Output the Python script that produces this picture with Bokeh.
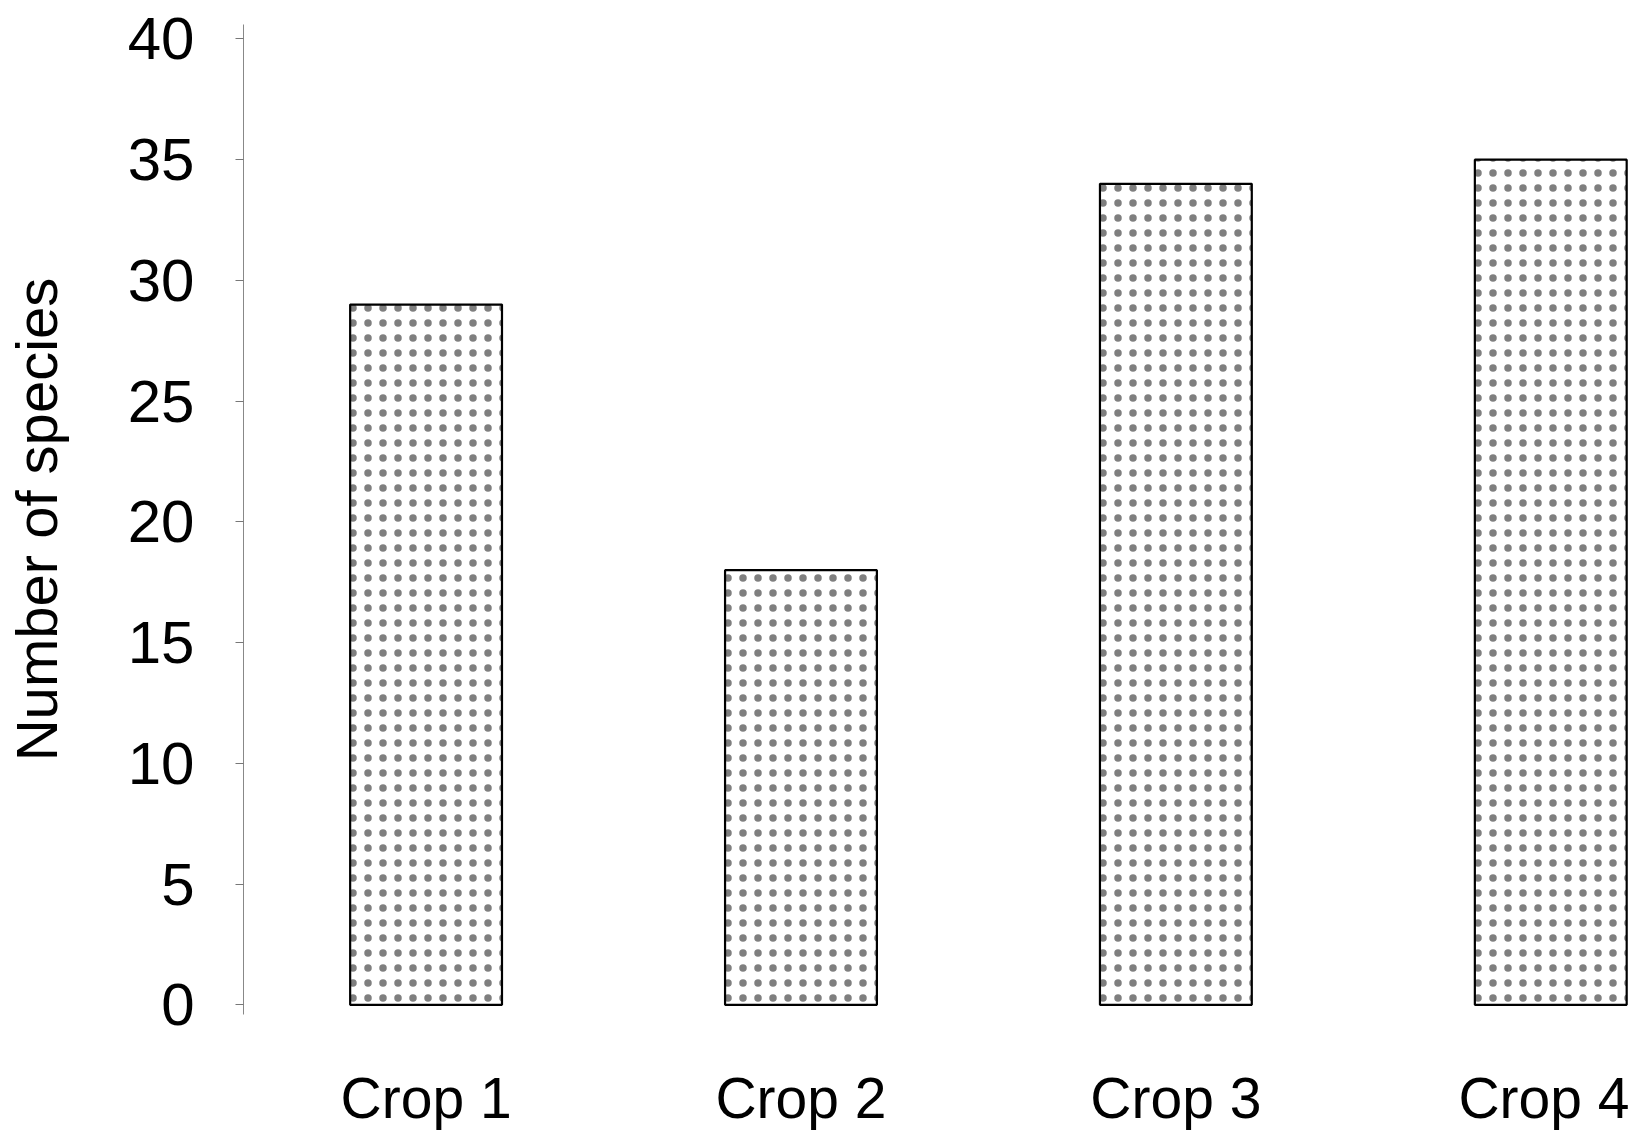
from bokeh.plotting import figure
from bokeh.models import ColumnDataSource, Range1d, FixedTicker
from bokeh.embed import file_html
from bokeh.resources import INLINE

categories = ["Crop 1", "Crop 2", "Crop 3", "Crop 4"]
species = [29, 18, 34, 35]
y_ticks = [0, 5, 10, 15, 20, 25, 30, 35, 40]

positions = list(range(1, len(categories) + 1))
source = ColumnDataSource(data=dict(x=positions, top=species, name=categories))

p = figure(
    width=1629, height=1132,
    output_backend="svg", toolbar_location=None,
    x_range=Range1d(0.513, 4.21), y_range=Range1d(-0.4, 40.6),
    min_border_left=239, min_border_right=0,
    min_border_top=24, min_border_bottom=112,
    background_fill_color="white", border_fill_color="white",
)
p.outline_line_color = None
p.xgrid.grid_line_color = None
p.ygrid.grid_line_color = None

p.vbar(
    x="x", top="top", bottom=0, width=0.405, source=source,
    fill_color="white", line_color="black", line_width=2.2,
    hatch_pattern="dot", hatch_color="black", hatch_alpha=0.5,
    hatch_scale=15, hatch_weight=0.1,
)

# y axis
p.yaxis.ticker = FixedTicker(ticks=y_ticks)
p.yaxis.minor_tick_line_color = None
p.yaxis.major_tick_in = 0
p.yaxis.major_tick_out = 8
p.yaxis.major_tick_line_color = "#777777"
p.yaxis.axis_line_color = "#888888"
p.yaxis.axis_line_width = 1
p.yaxis.major_label_standoff = 41
p.yaxis.major_label_text_font = "Liberation Sans"
p.yaxis.major_label_text_font_size = "60px"
p.yaxis.major_label_text_color = "black"
p.yaxis.axis_label = "Number of species"
p.yaxis.axis_label_text_font = "Liberation Sans"
p.yaxis.axis_label_text_font_size = "58px"
p.yaxis.axis_label_text_font_style = "normal"
p.yaxis.axis_label_text_color = "black"
p.yaxis.axis_label_standoff = 56

# x axis
p.xaxis.ticker = FixedTicker(ticks=positions)
p.xaxis.major_label_overrides = {pos: name for pos, name in zip(positions, categories)}
p.xaxis.minor_tick_line_color = None
p.xaxis.major_tick_line_color = None
p.xaxis.major_tick_in = 0
p.xaxis.major_tick_out = 0
p.xaxis.axis_line_color = None
p.xaxis.major_label_standoff = 51
p.xaxis.major_label_text_font = "Liberation Sans"
p.xaxis.major_label_text_font_size = "57px"
p.xaxis.major_label_text_color = "black"

open("out.html", "w").write(file_html(p, INLINE))
